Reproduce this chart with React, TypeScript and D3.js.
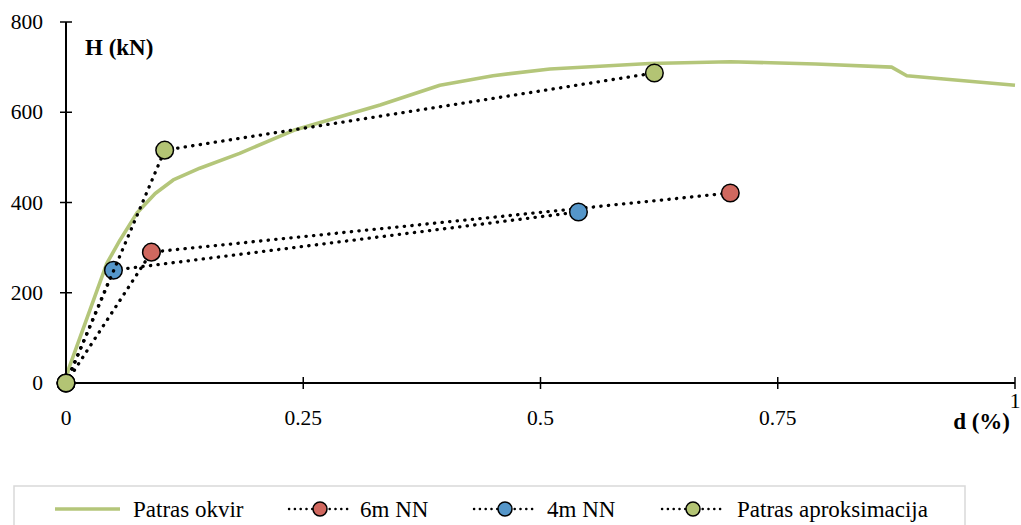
import React from "react";
import * as d3 from "d3";

const xTicks = [0, 0.25, 0.5, 0.75, 1];
const xTickLabels = ["0", "0.25", "0.5", "0.75", "1"];
const yTicks = [0, 200, 400, 600, 800];

// Patras okvir (pushover curve)
const okvirD = [0, 0.0024, 0.043, 0.057, 0.0745, 0.094, 0.113, 0.141, 0.183, 0.24, 0.331, 0.394, 0.45, 0.51, 0.615, 0.7, 0.79, 0.87, 0.886, 1.0];
const okvirH = [0, 29, 265, 317, 376, 420, 450, 476, 509, 560, 616, 660, 681, 696, 708, 712, 707, 700, 681, 660];

const nn6D = [0, 0.09, 0.7];
const nn6H = [0, 290, 421];
const nn4D = [0, 0.05, 0.54];
const nn4H = [0, 250, 379];
const aproksD = [0, 0.104, 0.62];
const aproksH = [0, 516, 687];

const seriesNames = ["Patras okvir", "6m NN", "4m NN", "Patras aproksimacija"];

const C_OKVIR = "#b4c67a";
const C_RED = "#d0685f";
const C_BLUE = "#5596c9";
const C_GREEN = "#b3c474";

const FONT = "'Liberation Serif', 'Times New Roman', serif";

export default function App() {
  const x = d3.scaleLinear().domain([0, 1]).range([66, 1015]);
  const y = d3.scaleLinear().domain([0, 800]).range([383, 22]);
  const line = d3
    .line<[number, number]>()
    .x((d) => x(d[0]))
    .y((d) => y(d[1]));

  const zip = (a: number[], b: number[]) => a.map((v, i) => [v, b[i]] as [number, number]);

  const dotted = [
    { pts: zip(nn6D, nn6H), color: C_RED },
    { pts: zip(nn4D, nn4H), color: C_BLUE },
    { pts: zip(aproksD, aproksH), color: C_GREEN },
  ];

  const legendItems = [
    { name: seriesNames[0], x0: 55, textX: 133, kind: "line", color: C_OKVIR },
    { name: seriesNames[1], x0: 288, textX: 360, kind: "dot", color: C_RED },
    { name: seriesNames[2], x0: 473, textX: 547, kind: "dot", color: C_BLUE },
    { name: seriesNames[3], x0: 661, textX: 737, kind: "dot", color: C_GREEN },
  ];
  const ly = 509;

  return (
    <svg
      width={1021}
      height={525}
      style={{ position: "absolute", left: 0, top: 0, background: "#fff" }}
      fontFamily={FONT}
    >
      <rect x={0} y={0} width={1021} height={525} fill="#fff" />
      {/* curve */}
      <path d={line(zip(okvirD, okvirH)) || ""} fill="none" stroke={C_OKVIR} strokeWidth={3.6} strokeLinejoin="round" />
      {/* axes */}
      <line x1={x(0)} x2={x(0)} y1={y(800)} y2={y(0)} stroke="#000" strokeWidth={2} />
      <line x1={x(0)} x2={x(1)} y1={y(0)} y2={y(0)} stroke="#000" strokeWidth={2} />
      {yTicks.map((t) => (
        <g key={"y" + t}>
          <line x1={x(0) - 6} x2={x(0) + 6} y1={y(t)} y2={y(t)} stroke="#000" strokeWidth={1.5} />
          <text x={43} y={y(t)} textAnchor="end" dominantBaseline="central" fontSize={21.5}>
            {t}
          </text>
        </g>
      ))}
      {xTicks.map((t, i) => (
        <g key={"x" + t}>
          {t > 0 && <line x1={x(t)} x2={x(t)} y1={y(0) - 6} y2={y(0) + 6} stroke="#000" strokeWidth={1.5} />}
          <text
            x={x(t)}
            y={t === 1 ? 401 : 418}
            textAnchor="middle"
            dominantBaseline="central"
            fontSize={21.5}
          >
            {xTickLabels[i]}
          </text>
        </g>
      ))}
      <text x={85} y={47} fontSize={23} fontWeight="bold" dominantBaseline="central">
        H (kN)
      </text>
      <text x={1010} y={421} fontSize={23} fontWeight="bold" textAnchor="end" dominantBaseline="central">
        d (%)
      </text>
      {/* dotted series */}
      {dotted.map((s, i) => (
        <g key={"s" + i}>
          <path
            d={line(s.pts) || ""}
            fill="none"
            stroke="#000"
            strokeWidth={3.3}
            strokeLinecap="round"
            strokeDasharray="0.3 7.3"
          />
          {s.pts.map((p, j) => (
            <circle key={j} cx={x(p[0])} cy={y(p[1])} r={8.8} fill={s.color} stroke="#000" strokeWidth={1.5} />
          ))}
        </g>
      ))}
      {/* legend */}
      <rect x={14} y={486} width={951} height={60} fill="none" stroke="#d9d9d9" strokeWidth={1.5} />
      {legendItems.map((it) => (
        <g key={it.name}>
          {it.kind === "line" ? (
            <line x1={it.x0} x2={it.x0 + 65} y1={ly} y2={ly} stroke={it.color} strokeWidth={3.6} />
          ) : (
            <g>
              <line
                x1={it.x0 + 1}
                x2={it.x0 + 63}
                y1={ly}
                y2={ly}
                stroke="#000"
                strokeWidth={2.4}
                strokeLinecap="round"
                strokeDasharray="0.2 5.6"
              />
              <circle cx={it.x0 + 32} cy={ly} r={7} fill={it.color} stroke="#000" strokeWidth={1.5} />
            </g>
          )}
          <text x={it.textX} y={ly} fontSize={23} dominantBaseline="central">
            {it.name}
          </text>
        </g>
      ))}
    </svg>
  );
}
